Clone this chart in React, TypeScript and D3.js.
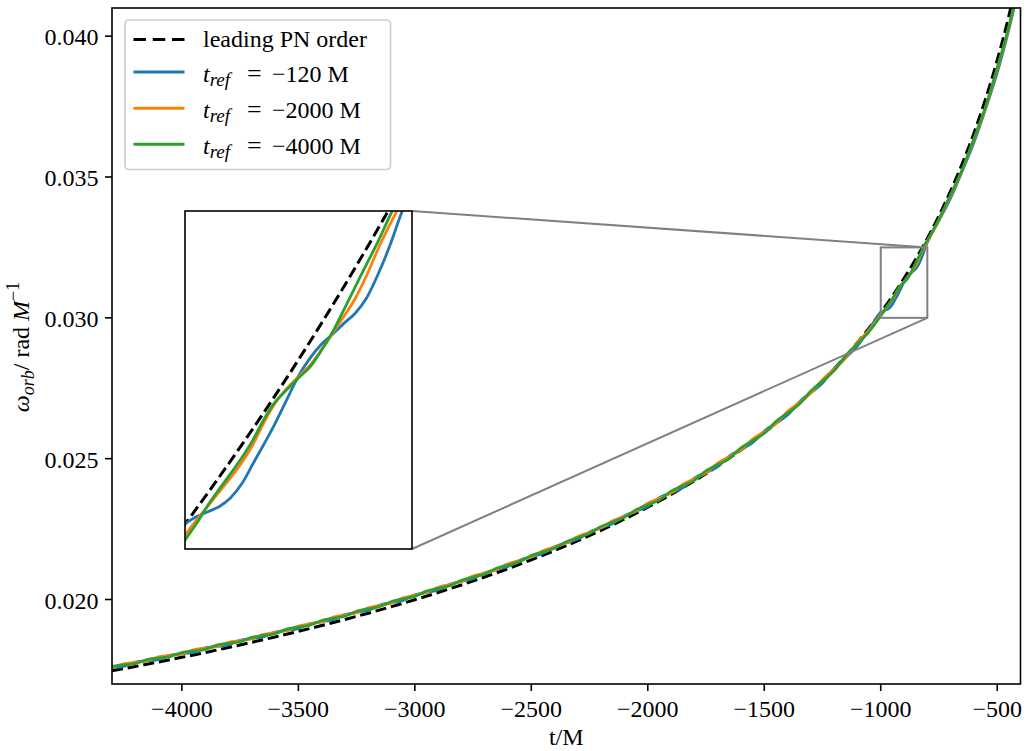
import React from 'react';
import * as d3 from 'd3';

// ---------- data ----------
const timeGrid = [
  -4300, -4250, -4200, -4150, -4100, -4050, -4000, -3950, -3900, -3850,
  -3800, -3750, -3700, -3650, -3600, -3550, -3500, -3450, -3400, -3350,
  -3300, -3250, -3200, -3150, -3100, -3050, -3000, -2950, -2900, -2850,
  -2800, -2750, -2700, -2650, -2600, -2550, -2500, -2450, -2400, -2350,
  -2300, -2250, -2200, -2150, -2100, -2050, -2000, -1950, -1900, -1850,
  -1800, -1750, -1700, -1650, -1600, -1550, -1500, -1450, -1400, -1350,
  -1300, -1250, -1200, -1150, -1100, -1050,
  -1000, -990, -980, -970, -960, -950, -940, -930, -920, -910, -900,
  -890, -880, -870, -860, -850, -840, -830, -820, -810, -800,
  -750, -700, -650, -600, -550, -500, -450, -400,
];

const omegaTref120 = [
  0.017582, 0.017626, 0.017775, 0.017822, 0.017869, 0.018022, 0.018072, 0.018123, 0.018280, 0.018335,
  0.018390, 0.018553, 0.018611, 0.018672, 0.018839, 0.018904, 0.018969, 0.019142, 0.019210, 0.019282,
  0.019460, 0.019537, 0.019614, 0.019801, 0.019883, 0.019970, 0.020162, 0.020252, 0.020342, 0.020543,
  0.020639, 0.020743, 0.020951, 0.021062, 0.021174, 0.021395, 0.021515, 0.021640, 0.021874, 0.022008,
  0.022147, 0.022397, 0.022546, 0.022702, 0.022970, 0.023138, 0.023299, 0.023617, 0.023788, 0.023967,
  0.024310, 0.024508, 0.024718, 0.025093, 0.025325, 0.025570, 0.025983, 0.026258, 0.026549, 0.027014,
  0.027341, 0.027685, 0.028206, 0.028594, 0.029007, 0.029595,
  0.030185, 0.030238, 0.030276, 0.030313, 0.030377, 0.030482, 0.030632, 0.030782, 0.030939, 0.031110, 0.031280,
  0.031410, 0.031512, 0.031588, 0.031669, 0.031744, 0.031856, 0.032030, 0.032233, 0.032469, 0.032680,
  0.033452, 0.034254, 0.035217, 0.036227, 0.037420, 0.038704, 0.040241, 0.042000,
];

const omegaTref2000 = [
  0.017582, 0.017716, 0.017765, 0.017822, 0.017959, 0.018012, 0.018072, 0.018213, 0.018270, 0.018335,
  0.018480, 0.018543, 0.018611, 0.018762, 0.018829, 0.018904, 0.019059, 0.019132, 0.019210, 0.019372,
  0.019450, 0.019537, 0.019704, 0.019791, 0.019883, 0.020060, 0.020152, 0.020252, 0.020432, 0.020533,
  0.020639, 0.020833, 0.020941, 0.021062, 0.021264, 0.021385, 0.021515, 0.021730, 0.021864, 0.022008,
  0.022237, 0.022387, 0.022546, 0.022792, 0.022960, 0.023138, 0.023421, 0.023590, 0.023775, 0.024089,
  0.024283, 0.024495, 0.024840, 0.025066, 0.025312, 0.025692, 0.025956, 0.026245, 0.026671, 0.026987,
  0.027328, 0.027807, 0.028179, 0.028581, 0.029129, 0.029568,
  0.030103, 0.030211, 0.030315, 0.030421, 0.030526, 0.030639, 0.030775, 0.030943, 0.031085, 0.031190, 0.031274,
  0.031358, 0.031471, 0.031595, 0.031721, 0.031853, 0.032023, 0.032217, 0.032391, 0.032551, 0.032700,
  0.033472, 0.034334, 0.035247, 0.036327, 0.037460, 0.038824, 0.040301, 0.042110,
];

const omegaTref4000 = [
  0.017627, 0.017676, 0.017725, 0.017867, 0.017919, 0.017972, 0.018117, 0.018173, 0.018230, 0.018380,
  0.018440, 0.018503, 0.018656, 0.018722, 0.018789, 0.018949, 0.019019, 0.019092, 0.019255, 0.019332,
  0.019410, 0.019582, 0.019664, 0.019751, 0.019928, 0.020020, 0.020112, 0.020297, 0.020392, 0.020493,
  0.020684, 0.020793, 0.020901, 0.021107, 0.021224, 0.021345, 0.021560, 0.021690, 0.021824, 0.022053,
  0.022197, 0.022347, 0.022591, 0.022752, 0.022920, 0.023183, 0.023366, 0.023535, 0.023848, 0.024034,
  0.024228, 0.024568, 0.024785, 0.025011, 0.025385, 0.025637, 0.025901, 0.026318, 0.026616, 0.026932,
  0.027401, 0.027752, 0.028124, 0.028654, 0.029074, 0.029513,
  0.030066, 0.030186, 0.030322, 0.030441, 0.030556, 0.030675, 0.030809, 0.030966, 0.031093, 0.031181, 0.031267,
  0.031345, 0.031466, 0.031605, 0.031771, 0.031939, 0.032107, 0.032273, 0.032455, 0.032620, 0.032750,
  0.033502, 0.034374, 0.035267, 0.036367, 0.037490, 0.038874, 0.040341, 0.042160,
];

const pnTime = [
  -4300, -4200, -4100, -4000, -3900, -3800, -3700, -3600, -3500, -3400,
  -3300, -3200, -3100, -3000, -2900, -2800, -2700, -2600, -2500, -2400,
  -2300, -2200, -2100, -2000, -1900, -1800, -1700, -1600, -1500, -1400,
  -1300, -1200, -1100, -1000, -950, -900, -850, -800, -750, -700,
  -650, -600, -550, -500, -450, -400,
];
const pnOmega = [
  0.017467, 0.017622, 0.017782, 0.017947, 0.018118, 0.018296, 0.018480, 0.018671, 0.018869, 0.019075,
  0.019290, 0.019514, 0.019748, 0.019992, 0.020248, 0.020516, 0.020798, 0.021094, 0.021407, 0.021737,
  0.022087, 0.022458, 0.022853, 0.023276, 0.023728, 0.024213, 0.024738, 0.025307, 0.025926, 0.026606,
  0.027356, 0.028189, 0.029124, 0.030184, 0.030770, 0.031400, 0.032081, 0.032818, 0.033622, 0.034504,
  0.035477, 0.036557, 0.037770, 0.039144, 0.040721, 0.042560,
];

const xTicks = [-4000, -3500, -3000, -2500, -2000, -1500, -1000, -500];
const yTicks = [0.020, 0.025, 0.030, 0.035, 0.040];
const legendLabels = ['leading PN order', '−120 M', '−2000 M', '−4000 M'];
const seriesColors = ['#1f77b4', '#ff7f0e', '#2ca02c'];
const insetXDomain = [-1000, -800];
const insetYDomain = [0.030, 0.0325];

// ---------- layout ----------
const W = 1027;
const H = 751;
const AX = { left: 112, right: 1020.5, top: 8, bottom: 684 };
const INS = { left: 185, right: 412, top: 211, bottom: 549 };
const FONT = '"Liberation Serif", "DejaVu Serif", serif';

const x = d3.scaleLinear().domain([-4300, -400]).range([AX.left, AX.right]);
const y = d3.scaleLinear().domain([0.017, 0.041]).range([AX.bottom, AX.top]);
const xi = d3.scaleLinear().domain(insetXDomain).range([INS.left, INS.right]);
const yi = d3.scaleLinear().domain(insetYDomain).range([INS.bottom, INS.top]);

const colored = [
  { values: omegaTref120, color: seriesColors[0] },
  { values: omegaTref2000, color: seriesColors[1] },
  { values: omegaTref4000, color: seriesColors[2] },
];

function pathFor(
  times: number[],
  vals: number[],
  sx: d3.ScaleLinear<number, number>,
  sy: d3.ScaleLinear<number, number>
) {
  const gen = d3
    .line<number>()
    .x((_, i) => sx(times[i]))
    .y((d) => sy(d))
    .curve(d3.curveMonotoneX);
  return gen(vals) || '';
}

function fmtX(v: number) {
  return (v < 0 ? '−' : '') + Math.abs(v);
}

export default function App() {
  const rx0 = x(insetXDomain[0]);
  const rx1 = x(insetXDomain[1]);
  const ry0 = y(insetYDomain[1]);
  const ry1 = y(insetYDomain[0]);

  const drawSeries = (sx: any, sy: any, dashW: number) => (
    <>
      <path
        d={pathFor(pnTime, pnOmega, sx, sy)}
        fill="none"
        stroke="#000"
        strokeWidth={dashW}
        strokeDasharray="11.1,4.8"
      />
      {colored.map((s, k) => (
        <path
          key={k}
          d={pathFor(timeGrid, s.values, sx, sy)}
          fill="none"
          stroke={s.color}
          strokeWidth={2.8}
          strokeLinejoin="round"
        />
      ))}
    </>
  );

  const legendRows = [
    { handleY: 39.5, baseY: 47, dashed: true, color: '#000' },
    { handleY: 72, baseY: 81.5, dashed: false, color: seriesColors[0] },
    { handleY: 108.3, baseY: 117.5, dashed: false, color: seriesColors[1] },
    { handleY: 144.3, baseY: 153.5, dashed: false, color: seriesColors[2] },
  ];

  return (
    <svg
      width={W}
      height={H}
      viewBox={`0 0 ${W} ${H}`}
      style={{ position: 'absolute', left: 0, top: 0, background: '#fff' }}
      fontFamily={FONT}
    >
      <defs>
        <clipPath id="mainClip">
          <rect x={AX.left} y={AX.top} width={AX.right - AX.left} height={AX.bottom - AX.top} />
        </clipPath>
        <clipPath id="insetClip">
          <rect x={INS.left} y={INS.top} width={INS.right - INS.left} height={INS.bottom - INS.top} />
        </clipPath>
      </defs>
      <rect x={0} y={0} width={W} height={H} fill="#fff" />

      {/* main curves */}
      <g clipPath="url(#mainClip)">{drawSeries(x, y, 3)}</g>

      {/* indicator rectangle + connectors */}
      <rect
        x={rx0}
        y={ry0}
        width={rx1 - rx0}
        height={ry1 - ry0}
        fill="none"
        stroke="#808080"
        strokeWidth={2}
      />
      <line x1={INS.right} y1={INS.top} x2={rx1} y2={ry0} stroke="#808080" strokeWidth={2} />
      <line x1={INS.right} y1={INS.bottom} x2={rx1} y2={ry1} stroke="#808080" strokeWidth={2} />

      {/* inset */}
      <rect
        x={INS.left}
        y={INS.top}
        width={INS.right - INS.left}
        height={INS.bottom - INS.top}
        fill="#fff"
      />
      <g clipPath="url(#insetClip)">{drawSeries(xi, yi, 3)}</g>
      <rect
        x={INS.left}
        y={INS.top}
        width={INS.right - INS.left}
        height={INS.bottom - INS.top}
        fill="none"
        stroke="#000"
        strokeWidth={1.6}
      />

      {/* axes frame */}
      <rect
        x={AX.left}
        y={AX.top}
        width={AX.right - AX.left}
        height={AX.bottom - AX.top}
        fill="none"
        stroke="#000"
        strokeWidth={1.6}
      />

      {/* x ticks */}
      {xTicks.map((t) => (
        <g key={t}>
          <line x1={x(t)} x2={x(t)} y1={AX.bottom} y2={AX.bottom + 7} stroke="#000" strokeWidth={1.6} />
          <text x={x(t)} y={716.5} textAnchor="middle" fontSize={24} fill="#000">
            {fmtX(t)}
          </text>
        </g>
      ))}
      {/* y ticks */}
      {yTicks.map((t) => (
        <g key={t}>
          <line x1={AX.left - 7} x2={AX.left} y1={y(t)} y2={y(t)} stroke="#000" strokeWidth={1.6} />
          <text x={98.5} y={y(t) + 9} textAnchor="end" fontSize={24} fill="#000">
            {t.toFixed(3)}
          </text>
        </g>
      ))}

      {/* axis labels */}
      <text x={(AX.left + AX.right) / 2} y={745} textAnchor="middle" fontSize={24} fill="#000">
        t/M
      </text>
      <text transform="translate(29,347) rotate(-90)" textAnchor="middle" fontSize={24} fill="#000">
        <tspan fontStyle="italic">ω</tspan>
        <tspan fontStyle="italic" fontSize={18} dy={5}>orb</tspan>
        <tspan dy={-5}>/ rad </tspan>
        <tspan fontStyle="italic">M</tspan>
        <tspan fontSize={18} dy={-10}>−1</tspan>
      </text>

      {/* legend */}
      <rect
        x={125}
        y={20}
        width={265.5}
        height={149.5}
        rx={4}
        ry={4}
        fill="#fff"
        fillOpacity={0.8}
        stroke="#cccccc"
        strokeWidth={1.6}
      />
      {legendRows.map((r, k) => (
        <g key={k}>
          <line
            x1={133.5}
            x2={184.5}
            y1={r.handleY}
            y2={r.handleY}
            stroke={r.color}
            strokeWidth={3}
            strokeDasharray={r.dashed ? '12.5,6.75' : undefined}
          />
          {k === 0 ? (
            <text x={203} y={r.baseY} fontSize={24} fill="#000">
              {legendLabels[0]}
            </text>
          ) : (
            <text x={203} y={r.baseY} fontSize={24} fill="#000">
              <tspan fontStyle="italic">t</tspan>
              <tspan fontStyle="italic" fontSize={19} dy={4}>ref</tspan>
              <tspan x={247} dy={-4} fontSize={26}>=</tspan>
              <tspan x={272}>{legendLabels[k]}</tspan>
            </text>
          )}
        </g>
      ))}
    </svg>
  );
}
